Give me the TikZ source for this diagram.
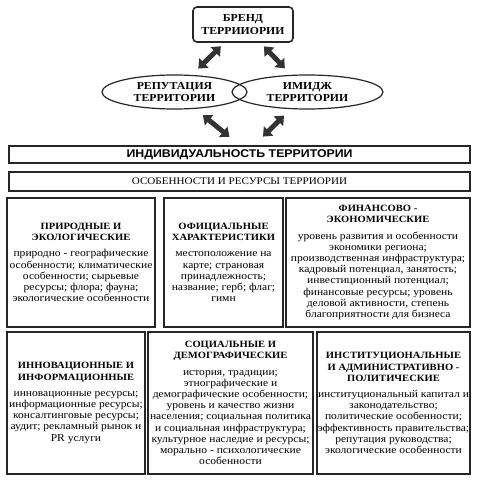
\documentclass[tikz,border=0pt]{standalone}
\usepackage{fontspec}
\setmainfont{Liberation Serif}[FakeStretch=1.1]
\newfontfamily\indivfont{Liberation Sans}[FakeStretch=1.1]
\usetikzlibrary{arrows.meta,positioning,shapes.geometric,calc}
\newcommand{\hdf}{\bfseries\fontsize{9.6}{12}\selectfont}
\newcommand{\bdf}{\mdseries\fontsize{10.5}{11.2}\selectfont}

\begin{document}
\begin{tikzpicture}[x=1pt,y=-1pt,
  box/.style={draw=black!85,line width=1.6pt,align=center,inner sep=0pt,font=\bdf},
  oval/.style={ellipse,draw=black!85,line width=1.2pt,inner sep=0pt,align=center,font=\bfseries\fontsize{10.7}{12.5}\selectfont},
  fat/.style={draw=black!80,line width=5pt,{Triangle[width=13pt,length=8pt]}-{Triangle[width=13pt,length=8pt]}}]
\useasboundingbox (0,0) rectangle (482,482);
\node[box,rounded corners=4pt,font=\bfseries\fontsize{10.7}{13}\selectfont,minimum width=100,minimum height=35] (brand) at (243,24.5) {БРЕНД\\ТЕРРИИОРИИ};
\node[oval,minimum width=145,minimum height=34] (rep) at (174.5,92) {РЕПУТАЦИЯ\\ТЕРРИТОРИИ};
\node[oval,minimum width=151,minimum height=34] (img) at (307.5,92) {ИМИДЖ\\ТЕРРИТОРИИ};
\node[box,line width=1.8pt,font=\indivfont\bfseries\fontsize{11.2}{12}\selectfont,minimum width=461,minimum height=17] (indiv) at (239.5,154.5) {ИНДИВИДУАЛЬНОСТЬ ТЕРРИТОРИИ};
\node[box,line width=1.2pt,font=\fontsize{10.1}{11}\selectfont,minimum width=461,minimum height=19] (feat) at (239.5,181.5) {ОСОБЕННОСТИ И РЕСУРСЫ ТЕРРИОРИИ};
\draw[fat,shorten <=5pt,shorten >=9pt] (brand) -- (rep);
\draw[fat,shorten <=5pt,shorten >=9pt] (brand) -- (img);
\draw[fat,shorten <=10pt,shorten >=13pt] (rep) -- (indiv.north);
\draw[fat,shorten <=9pt,shorten >=12pt] (img) -- ($(indiv.north)+(15,0)$);
% first row
\node[box,minimum width=148,minimum height=129] (nat) at (81,262.5) {\hdf ПРИРОДНЫЕ И\\\hdf ЭКОЛОГИЧЕСКИЕ\\[5pt]
  \bdf природно - географические\\особенности; климатические\\особенности; сырьевые\\ресурсы; флора; фауна;\\экологические особенности};
\node[box,minimum width=119,minimum height=129] (off) at (223.5,262.5) {\hdf ОФИЦИАЛЬНЫЕ\\\hdf ХАРАКТЕРИСТИКИ\\[5pt]
  \bdf местоположение на\\карте; страновая\\принадлежность;\\название; герб; флаг;\\гимн};
\node[box,minimum width=184,minimum height=129] (fin) at (378,262.5) {\hdf ФИНАНСОВО -\\\hdf ЭКОНОМИЧЕСКИЕ\\[5pt]
  \bdf уровень развития и особенности\\экономики региона;\\производственная инфраструктура;\\кадровый потенциал, занятость;\\инвестиционный потенциал;\\финансовые ресурсы; уровень\\деловой активности, степень\\благоприятности для бизнеса};
% second row
\node[box,minimum width=138,minimum height=142] (inn) at (76,403) {\hdf ИННОВАЦИОННЫЕ И\\\hdf ИНФОРМАЦИОННЫЕ\\[5pt]
  \bdf инновационные ресурсы;\\информационные ресурсы;\\консалтинговые ресурсы;\\аудит; рекламный рынок и\\PR услуги};
\node[box,minimum width=165,minimum height=142] (soc) at (230.5,403) {\hdf СОЦИАЛЬНЫЕ И\\\hdf ДЕМОГРАФИЧЕСКИЕ\\[5pt]
  \bdf история, традиции;\\этнографические и\\демографические особенности;\\уровень и качество жизни\\населения; социальная политика\\и социальная инфраструктура;\\культурное наследие и ресурсы;\\морально - психологические\\особенности};
\node[box,minimum width=153,minimum height=142] (inst) at (393.5,403) {\hdf ИНСТИТУЦИОНАЛЬНЫЕ\\\hdf И АДМИНИСТРАТИВНО -\\\hdf ПОЛИТИЧЕСКИЕ\\[5pt]
  \bdf институциональный капитал и\\законодательство;\\политические особенности;\\эффективность правительства;\\репутация руководства;\\экологические особенности};
\end{tikzpicture}
\end{document}
